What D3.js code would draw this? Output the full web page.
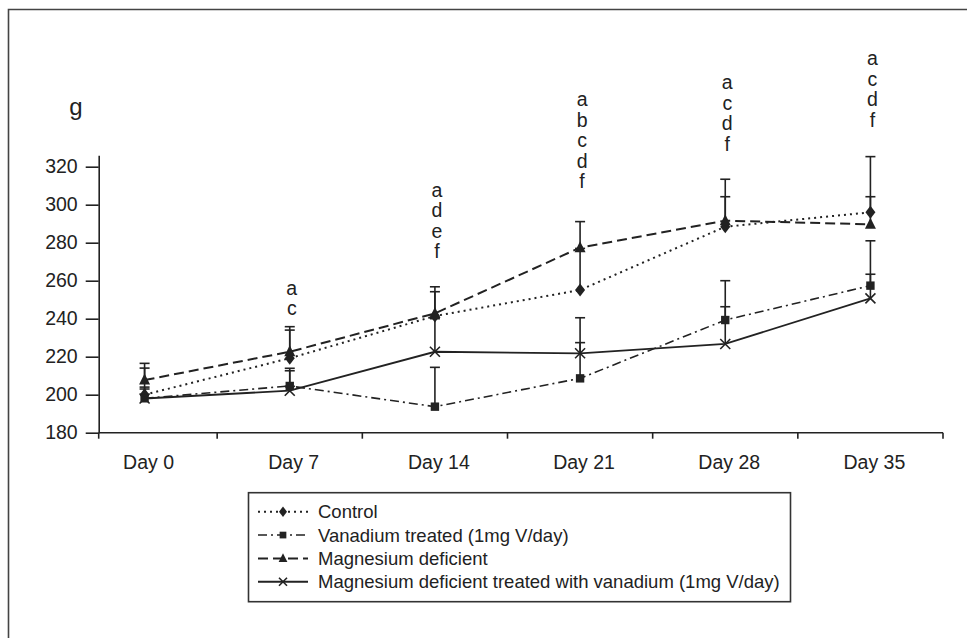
<!DOCTYPE html>
<html>
<head>
<meta charset="utf-8">
<script src="https://cdn.jsdelivr.net/npm/d3@7/dist/d3.min.js"></script>
<style>
  html, body { margin: 0; padding: 0; background: #fff; }
  svg { display: block; }
  text { font-family: "Liberation Sans", Arial, Helvetica, sans-serif; fill: #222; }
</style>
</head>
<body>
<svg id="chart" width="967" height="638"></svg>
<script>
// Body weight (g) by day of treatment
const days = ["Day 0", "Day 7", "Day 14", "Day 21", "Day 28", "Day 35"];

const control        = [200, 219.2, 241.4, 255.1, 288.4, 296.0];
const controlErr     = [214.0, 234.0, 254.2, 277.0, 313.4, 325.3];

const vanadium       = [198.1, 204.6, 193.7, 208.6, 239.3, 257.4];
const vanadiumErr    = [204.0, 213.9, 214.4, 227.4, 260.0, 281.0];

const mgDeficient    = [207.7, 222.6, 242.8, 277.4, 291.6, 289.7];
const mgDeficientErr = [216.5, 235.8, 256.8, 291.1, 304.2, 304.2];

const mgVanadium     = [198.0, 202.1, 222.6, 221.8, 226.7, 250.7];
const mgVanadiumErr  = [203.0, 212.6, 240.0, 240.5, 246.3, 263.4];

// Significance letters per day and the weight level where each stack ends
const sigLetters = [[], ["a", "c"], ["a", "d", "e", "f"], ["a", "b", "c", "d", "f"], ["a", "c", "d", "f"], ["a", "c", "d", "f"]];
const sigBase    = [null, 241.9, 271.8, 308.6, 328.4, 341.0];

const yTicks = [180, 200, 220, 240, 260, 280, 300, 320];

const seriesNames = [
  "Control",
  "Vanadium treated (1mg V/day)",
  "Magnesium deficient",
  "Magnesium deficient treated with vanadium (1mg V/day)"
];

const series = [
  { name: seriesNames[0], values: control,     err: controlErr,     dash: "2,4",      marker: "diamond",  width: 2 },
  { name: seriesNames[1], values: vanadium,    err: vanadiumErr,    dash: "9,4,2,4",  marker: "square",   width: 1.6 },
  { name: seriesNames[2], values: mgDeficient, err: mgDeficientErr, dash: "10,5",     marker: "triangle", width: 2 },
  { name: seriesNames[3], values: mgVanadium,  err: mgVanadiumErr,  dash: null,       marker: "cross",    width: 1.8 }
];

const ink = "#222";
const svg = d3.select("#chart");

// outer frame (open on the right and bottom)
svg.append("path")
  .attr("d", "M8.5,638 V9.5 H967")
  .attr("fill", "none").attr("stroke", "#444").attr("stroke-width", 1.6);

const x = d3.scaleBand().domain(days).range([72, 943]).paddingInner(0).paddingOuter(0);
const y = d3.scaleLinear().domain([180, 326]).range([432.7, 155.3]);
const cx = d => x(d) + x.bandwidth() / 2;
const axisX = 98.7;
const baseY = y(180);

// y axis
const yAxis = d3.axisLeft(y).tickValues(yTicks).tickSize(13).tickSizeOuter(0).tickPadding(8);
const gy = svg.append("g").attr("transform", `translate(${axisX},0)`).call(yAxis);
gy.select(".domain").attr("stroke", ink).attr("stroke-width", 1.6);
gy.selectAll(".tick line").attr("stroke", ink).attr("stroke-width", 1.6);
gy.selectAll(".tick text").attr("font-size", 19.5).attr("fill", ink)
  .attr("font-family", '"Liberation Sans", Arial, sans-serif');

// x axis: line with ticks on category boundaries
const xEnd = x.range()[1];
svg.append("line").attr("x1", axisX).attr("x2", xEnd).attr("y1", baseY).attr("y2", baseY)
  .attr("stroke", ink).attr("stroke-width", 1.6);
const boundaries = [axisX].concat(days.slice(1).map(d => x(d))).concat([xEnd]);
svg.selectAll(".xtick").data(boundaries).enter().append("line")
  .attr("x1", d => d).attr("x2", d => d).attr("y1", baseY).attr("y2", baseY + 6)
  .attr("stroke", ink).attr("stroke-width", 1.6);
svg.selectAll(".xlabel").data(days).enter().append("text")
  .attr("x", d => cx(d) + 4).attr("y", baseY + 36)
  .attr("text-anchor", "middle").attr("font-size", 19.5)
  .text(d => d);

// unit label
svg.append("text").attr("x", 76).attr("y", 115).attr("text-anchor", "middle")
  .attr("font-size", 24).text("g");

// marker shapes
function markerPath(type, s) {
  switch (type) {
    case "diamond":  return `M0,${-6.5 * s} L${5 * s},0 L0,${6.5 * s} L${-5 * s},0 Z`;
    case "square":   return `M${-4.2 * s},${-4.2 * s} h${8.4 * s} v${8.4 * s} h${-8.4 * s} Z`;
    case "triangle": return `M0,${-6.5 * s} L${5.5 * s},${4.5 * s} L${-5.5 * s},${4.5 * s} Z`;
    case "cross":    return `M${-5 * s},${-5 * s} L${5 * s},${5 * s} M${5 * s},${-5 * s} L${-5 * s},${5 * s}`;
  }
}
function drawMarker(g, type, px, py, s) {
  const p = g.append("path").attr("d", markerPath(type, s)).attr("transform", `translate(${px},${py})`);
  if (type === "cross") p.attr("fill", "none").attr("stroke", ink).attr("stroke-width", 1.6);
  else p.attr("fill", ink).attr("stroke", "none");
}

// error bars (upper only)
const errG = svg.append("g");
series.forEach(s => {
  s.values.forEach((v, i) => {
    const px = cx(days[i]);
    const top = s.err[i];
    errG.append("line").attr("x1", px).attr("x2", px).attr("y1", y(v)).attr("y2", y(top))
      .attr("stroke", ink).attr("stroke-width", 1.6);
    errG.append("line").attr("x1", px - 5).attr("x2", px + 5).attr("y1", y(top)).attr("y2", y(top))
      .attr("stroke", ink).attr("stroke-width", 1.6);
  });
});

// series lines
const line = d3.line().x((v, i) => cx(days[i])).y(v => y(v));
series.forEach(s => {
  svg.append("path").datum(s.values).attr("d", line)
    .attr("fill", "none").attr("stroke", ink).attr("stroke-width", s.width)
    .attr("stroke-dasharray", s.dash);
});

// markers
const markG = svg.append("g");
series.forEach(s => {
  s.values.forEach((v, i) => drawMarker(markG, s.marker, cx(days[i]), y(v), 1));
});

// significance letters stacked above each day
const lineGap = 20.5;
sigLetters.forEach((letters, i) => {
  if (!letters.length) return;
  const bottom = y(sigBase[i]);
  letters.forEach((l, k) => {
    svg.append("text").attr("x", cx(days[i]) + 2)
      .attr("y", bottom - (letters.length - 1 - k) * lineGap)
      .attr("text-anchor", "middle").attr("font-size", 19.5).text(l);
  });
});

// legend
const lg = svg.append("g");
lg.append("rect").attr("x", 248.5).attr("y", 492.7).attr("width", 542).attr("height", 109)
  .attr("fill", "#fff").attr("stroke", "#333").attr("stroke-width", 1.6);
series.forEach((s, i) => {
  const ry = 511.7 + i * 23.35;
  lg.append("line").attr("x1", 258).attr("x2", 308).attr("y1", ry).attr("y2", ry)
    .attr("stroke", ink).attr("stroke-width", s.width).attr("stroke-dasharray", s.dash);
  drawMarker(lg, s.marker, 283, ry, 0.8);
  lg.append("text").attr("x", 318).attr("y", ry + 6.7).attr("font-size", 18.5).text(s.name);
});
</script>
</body>
</html>
